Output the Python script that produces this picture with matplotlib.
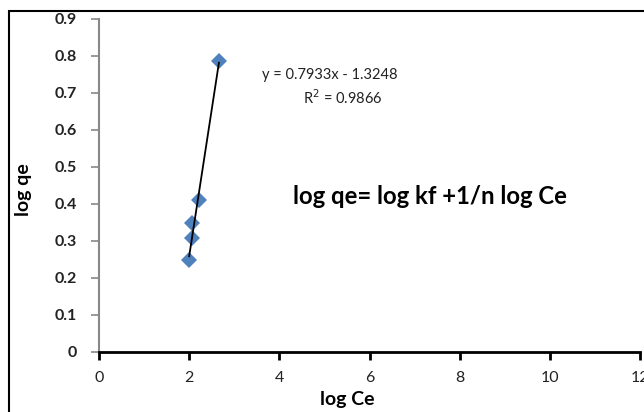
import numpy as np
import matplotlib
matplotlib.use("Agg")
import matplotlib.pyplot as plt
from matplotlib.patches import Rectangle

log_ce = [2.00, 2.07, 2.07, 2.22, 2.66]
log_qe = [0.247, 0.306, 0.348, 0.409, 0.785]
x_ticks = [0, 2, 4, 6, 8, 10, 12]
y_ticks = [0, 0.1, 0.2, 0.3, 0.4, 0.5, 0.6, 0.7, 0.8, 0.9]
y_tick_labels = ["0", "0.1", "0.2", "0.3", "0.4", "0.5", "0.6", "0.7", "0.8", "0.9"]

plt.rcParams['font.family'] = ['Lato', 'DejaVu Sans']

W, H = 644, 412
fig = plt.figure(figsize=(W / 100, H / 100), dpi=100)
ax = fig.add_axes([99 / W, 1 - 351.5 / H, (640 - 99) / W, (351.5 - 18.5) / H])

# figure border
fig.patches.append(Rectangle((9 / W, -0.05), 1.2, 1.0 - 11 / H + 0.05,
                             transform=fig.transFigure, fill=False,
                             edgecolor='black', linewidth=1.5))

ax.plot(log_ce, log_qe, linestyle='none', marker='D', markersize=8.5,
        color='#4F81BD', markeredgewidth=0, zorder=3)

slope, intercept = np.polyfit(log_ce, log_qe, 1)
xs = np.array([min(log_ce), max(log_ce)])
ax.plot(xs, slope * xs + intercept, color='black', linewidth=1.3, zorder=4)

ax.set_xlim(0, 12)
ax.set_ylim(0, 0.9)
ax.set_xticks(x_ticks)
ax.set_xticklabels([str(t) for t in x_ticks], fontsize=11.5, color='#222222')
ax.set_yticks(y_ticks)
ax.set_yticklabels(y_tick_labels, fontsize=11.5, fontweight='bold', color='#222222')

for s in ['top', 'right']:
    ax.spines[s].set_visible(False)
ax.spines['bottom'].set_color('black')
ax.spines['bottom'].set_linewidth(2.0)
ax.spines['left'].set_color('#888888')
ax.spines['left'].set_linewidth(1.5)
ax.tick_params(axis='x', direction='out', length=6, width=2, color='black', pad=8)
ax.tick_params(axis='y', direction='out', length=6, width=1.2, color='#888888', pad=10)

fig.text(347 / W, 1 - 391 / H, 'log Ce', fontsize=14, fontweight='bold',
         ha='center', va='top', color='black')
fig.text(23 / W, 1 - 190 / H, 'log qe', fontsize=14, fontweight='bold',
         ha='center', va='center', rotation=90, color='black')

fig.text(262 / W, 1 - 75 / H, 'y = 0.7933x - 1.3248',
         fontsize=10.5, va='center', ha='left', color='#222222')
fig.text(303 / W, 1 - 98 / H, 'R$^2$ = 0.9866',
         fontsize=10.5, va='center', ha='left', color='#222222')
fig.text(293 / W, 1 - 196 / H, 'log qe= log kf +1/n log Ce',
         fontsize=17.2, fontweight='bold', va='center', ha='left', color='black')

fig.savefig('out.png', dpi=100)
